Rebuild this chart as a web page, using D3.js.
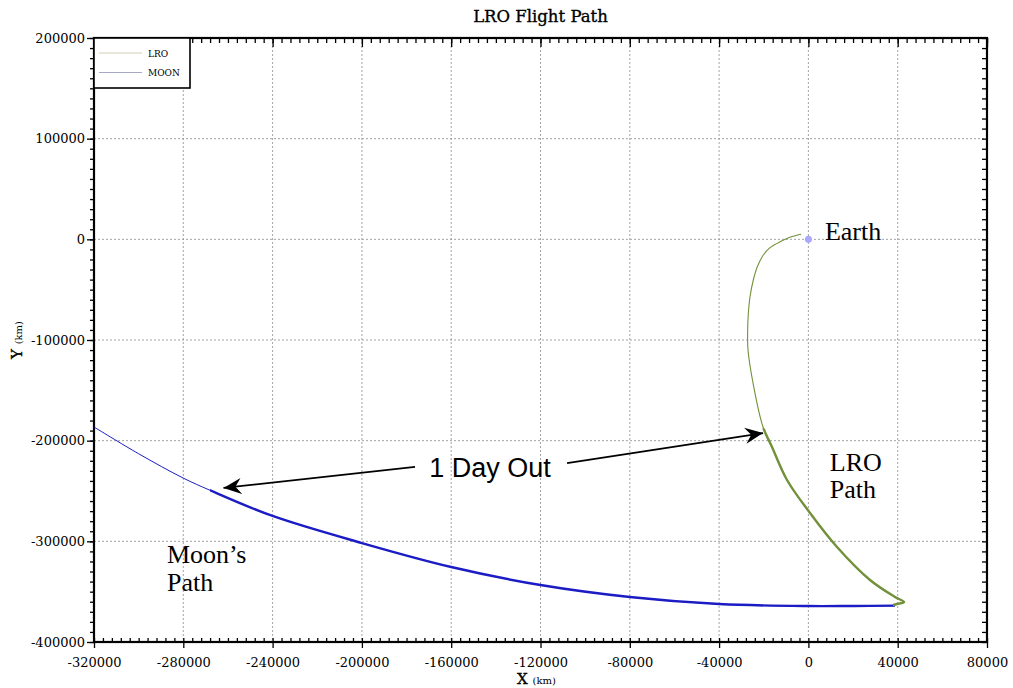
<!DOCTYPE html>
<html>
<head>
<meta charset="utf-8">
<script src="https://cdn.jsdelivr.net/npm/d3@7"></script>
<style>
  body { margin: 0; background: #fff; }
  svg { display: block; }
</style>
</head>
<body>
<script>
// tick labels
var xTicks = [-320000, -280000, -240000, -200000, -160000, -120000, -80000, -40000, 0, 40000, 80000];
var yTicks = [200000, 100000, 0, -100000, -200000, -300000, -400000];

// moon path (km)
var moonX = [-320000, -300000, -280000, -268000, -240000, -200000, -160000, -120000, -80000, -40000, 0, 20000, 38800];
var moonY = [-186400, -213000, -237200, -249300, -274800, -301700, -325500, -343400, -355300, -362300, -364300, -364200, -363900];
var moonThickFrom = -268000;   // x where the moon line turns thick

// LRO path (km)
var lroX = [-3300, -8240, -12720, -17200, -20200, -22890, -24680, -26160, -26920, -27230, -27050, -24810, -20330, -16300, -9580, 730, 12820, 27600, 38800, 42830, 39690, 37890];
var lroY = [5000, 2000, -2400, -8300, -15600, -27200, -40400, -57000, -73500, -95000, -110000, -142720, -186430, -206300, -239080, -271860, -305640, -338420, -355300, -360270, -362260, -363260];
var lroThickFrom = -188000;    // y where the LRO line turns thick

var earth = [0, 0];

var w = 1013, h = 688;
var mLeft = 94, mTop = 38, pw = 893, ph = 604;

var svg = d3.select("body").append("svg")
    .attr("width", w)
    .attr("height", h);

var x = d3.scaleLinear().domain([-320000, 80000]).range([0, pw]);
var y = d3.scaleLinear().domain([-400000, 200000]).range([ph, 0]);

var g = svg.append("g").attr("transform", "translate(" + mLeft + "," + mTop + ")");

// grid
g.selectAll(".vg").data(xTicks.slice(1, -1)).enter().append("line")
    .attr("x1", function(d){ return x(d); })
    .attr("x2", function(d){ return x(d); })
    .attr("y1", 0).attr("y2", ph)
    .attr("stroke", "#8c8c8c").attr("stroke-width", 0.8)
    .attr("stroke-dasharray", "2,2");
g.selectAll(".hg").data(yTicks.slice(1, -1)).enter().append("line")
    .attr("y1", function(d){ return y(d); })
    .attr("y2", function(d){ return y(d); })
    .attr("x1", 0).attr("x2", pw)
    .attr("stroke", "#8c8c8c").attr("stroke-width", 0.8)
    .attr("stroke-dasharray", "2,2");

// axes
var xMinor = d3.range(-320000, 80001, 4000);
var yMinor = d3.range(-400000, 200001, 10000);
var fmt = function(d){ return String(d); };

function styleAxis(sel) {
    sel.select(".domain").remove();
    sel.selectAll(".tick line").attr("stroke", "#000").attr("stroke-width", 1.3);
    sel.selectAll("text").attr("font-family", "'DejaVu Serif', serif").attr("font-size", "13px").attr("fill", "#000");
}

g.append("g").attr("transform", "translate(0," + ph + ")")
    .call(d3.axisTop(x).tickValues(xMinor).tickSize(4).tickFormat(""))
    .call(styleAxis);
g.append("g").attr("transform", "translate(0," + ph + ")")
    .call(d3.axisBottom(x).tickValues(xTicks).tickSize(6).tickPadding(10).tickFormat(fmt))
    .call(styleAxis);
g.append("g")
    .call(d3.axisBottom(x).tickValues(xMinor).tickSize(5).tickFormat(""))
    .call(styleAxis);
g.append("g")
    .call(d3.axisBottom(x).tickValues(xTicks).tickSize(9).tickFormat(""))
    .call(styleAxis);

g.append("g")
    .call(d3.axisLeft(y).tickValues(yMinor).tickSize(4).tickFormat(""))
    .call(styleAxis);
g.append("g")
    .call(d3.axisLeft(y).tickValues(yTicks).tickSize(7).tickPadding(2).tickFormat(fmt))
    .call(styleAxis);
g.append("g").attr("transform", "translate(" + pw + ",0)")
    .call(d3.axisLeft(y).tickValues(yMinor).tickSize(5).tickFormat(""))
    .call(styleAxis);

// frame
g.append("rect").attr("width", pw).attr("height", ph)
    .attr("fill", "none").attr("stroke", "#000").attr("stroke-width", 2.2);

// clip regions for the thick parts
var defs = svg.append("defs");
defs.append("clipPath").attr("id", "moonThick").append("rect")
    .attr("x", x(moonThickFrom)).attr("y", 0).attr("width", pw).attr("height", ph);
defs.append("clipPath").attr("id", "lroThick").append("rect")
    .attr("x", 0).attr("y", y(lroThickFrom)).attr("width", pw).attr("height", ph);

// lines
var line = d3.line()
    .x(function(d){ return x(d[0]); })
    .y(function(d){ return y(d[1]); })
    .curve(d3.curveCatmullRom);

var moonPts = moonX.map(function(v, i){ return [v, moonY[i]]; });
var lroPts = lroX.map(function(v, i){ return [v, lroY[i]]; });

var moonColor = "#1c1cc4", lroColor = "#72913a";
g.append("path").datum(moonPts)
    .attr("d", line).attr("fill", "none").attr("stroke", moonColor).attr("stroke-width", 1);
g.append("path").datum(moonPts)
    .attr("d", line).attr("fill", "none").attr("stroke", moonColor).attr("stroke-width", 2.4)
    .attr("clip-path", "url(#moonThick)");

g.append("path").datum(lroPts)
    .attr("d", line).attr("fill", "none").attr("stroke", lroColor).attr("stroke-width", 1.1);
g.append("path").datum(lroPts)
    .attr("d", line).attr("fill", "none").attr("stroke", lroColor).attr("stroke-width", 2.4)
    .attr("clip-path", "url(#lroThick)");

// earth
g.append("circle").attr("cx", x(earth[0])).attr("cy", y(earth[1])).attr("r", 3.5)
    .attr("fill", "#a8a8ff");

// legend
var lg = g.append("g");
lg.append("rect").attr("x", 0).attr("y", 0).attr("width", 96).attr("height", 50)
    .attr("fill", "#fff").attr("stroke", "#000").attr("stroke-width", 1.6);
var legendItems = [["LRO", "#d2d0b4"], ["MOON", "#a6a8c6"]];
legendItems.forEach(function(d, i){
    lg.append("line").attr("x1", 5).attr("x2", 48)
        .attr("y1", 15 + i * 19.5).attr("y2", 15 + i * 19.5)
        .attr("stroke", d[1]).attr("stroke-width", 1);
    lg.append("text").attr("x", 54).attr("y", 18.5 + i * 19.5).text(d[0])
        .attr("font-family", "'DejaVu Serif', serif").attr("font-size", "9px").attr("fill", "#000");
});

// annotations
defs.append("marker")
    .attr("id", "ah").attr("viewBox", "-18 -9 20 18")
    .attr("refX", 0).attr("refY", 0)
    .attr("markerWidth", 20).attr("markerHeight", 18)
    .attr("markerUnits", "userSpaceOnUse")
    .attr("orient", "auto")
    .append("path").attr("d", "M0,0 L-18,-8 L-12,0 L-18,8 Z").attr("fill", "#000");

var arrows = [[-176200, -226000, -262000, -247000], [-108100, -222200, -20300, -192400]];
arrows.forEach(function(a){
    g.append("line")
        .attr("x1", x(a[0])).attr("y1", y(a[1]))
        .attr("x2", x(a[2])).attr("y2", y(a[3]))
        .attr("stroke", "#000").attr("stroke-width", 1.8)
        .attr("marker-end", "url(#ah)");
});

g.append("text").attr("x", x(-142600)).attr("y", y(-236000))
    .attr("text-anchor", "middle").text("1 Day Out")
    .attr("font-family", "'Liberation Sans', Arial, sans-serif").attr("font-size", "27px");

var serifLabel = function(txt, px, py){
    g.append("text").attr("x", x(px)).attr("y", y(py)).text(txt)
        .attr("font-family", "'Liberation Serif', 'Times New Roman', serif").attr("font-size", "26px");
};
serifLabel("Earth", 7400, -1000);
serifLabel("LRO", 9600, -230000);
serifLabel("Path", 9600, -257000);
serifLabel("Moon\u2019s", -287300, -321500);
serifLabel("Path", -287300, -349300);

// titles
svg.append("text").attr("x", mLeft + pw / 2).attr("y", 22)
    .attr("text-anchor", "middle").text("LRO Flight Path")
    .attr("font-family", "'DejaVu Serif', serif").attr("font-size", "16.5px")
    .attr("stroke", "#000").attr("stroke-width", 0.35);

var xl = svg.append("text").attr("x", mLeft + pw / 2 - 4).attr("y", 684)
    .attr("text-anchor", "middle")
    .attr("font-family", "'DejaVu Serif', serif").attr("font-size", "15px");
xl.append("tspan").text("X ").attr("stroke", "#000").attr("stroke-width", 0.35);
xl.append("tspan").text("(km)").attr("font-size", "10px");

var yl = svg.append("text").attr("transform", "translate(22," + (mTop + ph / 2) + ") rotate(-90)")
    .attr("text-anchor", "middle")
    .attr("font-family", "'DejaVu Serif', serif").attr("font-size", "15px");
yl.append("tspan").text("Y ").attr("stroke", "#000").attr("stroke-width", 0.35);
yl.append("tspan").text("(km)").attr("font-size", "10px");
</script>
</body>
</html>
